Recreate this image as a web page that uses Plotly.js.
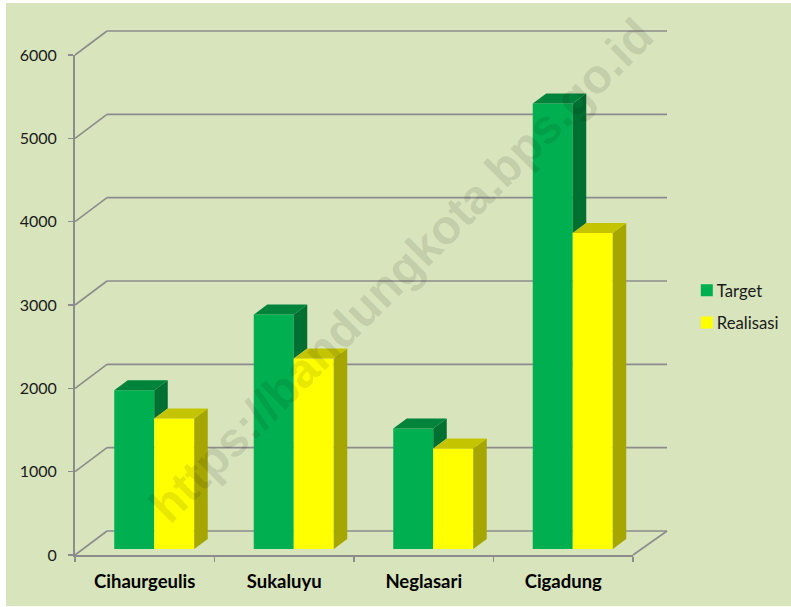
<!DOCTYPE html>
<html>
<head>
<meta charset="utf-8">
<script src="https://cdn.plot.ly/plotly-3.0.1.min.js"></script>
<style>
html,body{margin:0;padding:0;background:#fff;overflow:hidden}
#chart{position:absolute;left:6px;top:3px;width:785px;height:603px}
</style>
</head>
<body>
<div id="chart"></div>
<script>
var categories = ["Cihaurgeulis", "Sukaluyu", "Neglasari", "Cigadung"];
var targetValues = [1905, 2813, 1445, 5345];
var realisasiValues = [1565, 2285, 1205, 3792];
var yTicks = [0, 1000, 2000, 3000, 4000, 5000, 6000];

var BG = "#D8E4BC", GRID = "#8C8C8C", FONT = "Lato, 'Open Sans', sans-serif";
var plotW = 558, plotH = 500, yMax = 6000;
var pxX = 1 / (plotW / 4), pxY = yMax / plotH;     // one screen pixel in data units
var barW = 40 * pxX, barShift = -30.5 * pxX;       // bar width and left offset from the category centre
var baseLift = 6 * pxY;                            // bars stand on the floor, a little behind the front edge
var depthX = 13.5 * pxX, depthY = 10 * pxY;        // depth of each 3D bar
var wallX = 32, wallY = 24;                        // depth of the chart box, screen pixels

var xs = categories.map(function (c, i) { return i; });

function face(name, color, build) {
  var x = [], y = [];
  xs.forEach(function (xi, i) {
    var p = build(xi, i);
    p.forEach(function (q) { x.push(q[0]); y.push(q[1]); });
    x.push(null); y.push(null);
  });
  return { type: "scatter", mode: "lines", x: x, y: y, fill: "toself", fillcolor: color,
           line: { width: 0, color: color }, cliponaxis: false, showlegend: false,
           hoverinfo: "skip", name: name };
}
function left1(xi) { return xi + barShift; }
function left2(xi) { return xi + barShift + barW; }
function right2(xi) { return xi + barShift + 2 * barW; }

var traces = [
  { type: "bar", name: "Target", x: xs, y: targetValues, base: baseLift, width: barW, offset: barShift,
    marker: { color: "#00B050", line: { width: 0 } }, legendgroup: "a", hoverinfo: "skip" },
  { type: "bar", name: "Realisasi", x: xs, y: realisasiValues, base: baseLift, width: barW, offset: barShift + barW,
    marker: { color: "#FFFF00", line: { width: 0 } }, legendgroup: "b", hoverinfo: "skip" },
  face("Target side", "#006F32", function (xi, i) {
    var t = targetValues[i] + baseLift, r = realisasiValues[i] + baseLift;
    return [[left2(xi), t], [left2(xi) + depthX, t + depthY], [left2(xi) + depthX, r + depthY], [left2(xi), r]];
  }),
  face("Target top", "#00843C", function (xi, i) {
    var t = targetValues[i] + baseLift;
    return [[left1(xi), t], [left1(xi) + depthX, t + depthY], [left2(xi) + depthX, t + depthY], [left2(xi), t]];
  }),
  face("Realisasi side", "#A6A600", function (xi, i) {
    var t = realisasiValues[i] + baseLift;
    return [[right2(xi), baseLift], [right2(xi) + depthX, baseLift + depthY], [right2(xi) + depthX, t + depthY], [right2(xi), t]];
  }),
  face("Realisasi top", "#C4C400", function (xi, i) {
    var t = realisasiValues[i] + baseLift;
    return [[left2(xi), t], [left2(xi) + depthX, t + depthY], [right2(xi) + depthX, t + depthY], [right2(xi), t]];
  })
];

var shapes = [];
function seg(x0, y0, x1, y1) {
  shapes.push({ type: "line", xref: "paper", yref: "paper", layer: "below",
    x0: x0, y0: y0, x1: x1, y1: y1, line: { color: GRID, width: 1.6 } });
}
yTicks.forEach(function (v) {
  var f = v / yMax;
  seg(0, f, wallX / plotW, f + wallY / plotH);
  seg(wallX / plotW, f + wallY / plotH, 1 + 34 / plotW, f + wallY / plotH);
});
seg(1, 0, 1 + 34 / plotW, wallY / plotH);

var layout = {
  width: 785, height: 603,
  margin: { l: 69, r: 158, t: 52, b: 51, pad: 0, autoexpand: false },
  paper_bgcolor: BG, plot_bgcolor: "rgba(0,0,0,0)",
  barmode: "overlay", hovermode: false, showlegend: true,
  font: { family: FONT, color: "#1a1a1a", size: 15 },
  xaxis: {
    type: "linear", range: [-0.5, 3.5], tickvals: xs, ticktext: categories,
    ticks: "", ticklabelstandoff: 9, showgrid: false, zeroline: false,
    showline: true, linecolor: GRID, linewidth: 2,
    tickfont: { family: FONT, size: 18.5, color: "#000", weight: "bold" },
    minor: { tickvals: [-0.5, 0.5, 1.5, 2.5, 3.5], ticks: "outside", ticklen: 5, tickwidth: 1.5, tickcolor: GRID, showgrid: false }
  },
  yaxis: {
    range: [0, yMax], tickvals: yTicks, ticktext: yTicks.map(String),
    ticks: "outside", ticklen: 5, tickwidth: 1.5, tickcolor: GRID, ticklabelstandoff: 8,
    showgrid: false, zeroline: false, showline: true, linecolor: GRID, linewidth: 2,
    tickfont: { family: FONT, size: 16, color: "#1a1a1a" }
  },
  legend: { x: 1.0785, y: 0.564, xanchor: "left", yanchor: "top", tracegroupgap: 7.5,
            bgcolor: "rgba(0,0,0,0)", font: { family: FONT, size: 16.7, color: "#1a1a1a" } },
  shapes: shapes,
  annotations: [{
    text: "https://bandungkota.bps.go.id", xref: "paper", yref: "paper", x: 0.5842, y: 0.57,
    showarrow: false, textangle: -45, xanchor: "center", yanchor: "middle",
    font: { family: "'Liberation Sans', Arial, sans-serif", size: 48, weight: "bold", color: "rgba(0,0,0,0.11)" }
  }]
};
Plotly.newPlot("chart", traces, layout, { displayModeBar: false, staticPlot: true }).then(function (gd) {
  // The reference's legend swatches sit closer to their labels than Plotly's default gap.
  gd.querySelectorAll(".legend .legendsymbols").forEach(function (g) { g.setAttribute("transform", "translate(10,0)"); });
});
</script>
</body>
</html>
